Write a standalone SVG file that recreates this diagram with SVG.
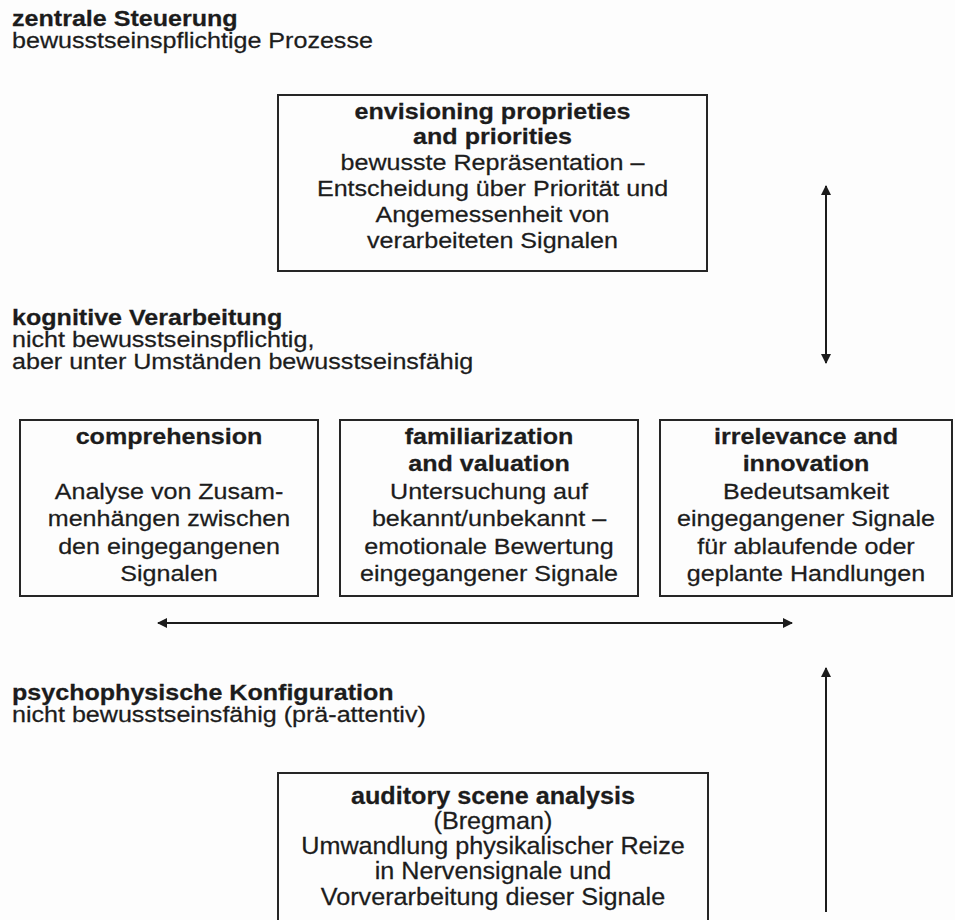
<svg xmlns="http://www.w3.org/2000/svg" width="955" height="920" viewBox="0 0 955 920">
<style>
  text { font-family: "Liberation Sans", Arial, sans-serif; fill: #1c1c1c; stroke: #1c1c1c; stroke-width: 0.25; font-size: 22px; }
  .b { font-weight: bold; }
  .c { text-anchor: middle; }
  .n { font-size: 24px; }
  .box { fill: none; stroke: #262626; stroke-width: 2; }
  .arr { stroke: #1c1c1c; stroke-width: 2; fill: none; }
</style>
<defs>
  <marker id="ah" viewBox="0 0 10 10" refX="9" refY="5" markerWidth="11" markerHeight="10" markerUnits="userSpaceOnUse" orient="auto-start-reverse">
    <path d="M0,0 L10,5 L0,10 z" fill="#1c1c1c"/>
  </marker>
</defs>
<rect width="955" height="920" fill="#fdfdfd"/>

<g id="labels">
  <g transform="translate(12,0) scale(1.14,1)">
    <text class="b" x="0" y="26">zentrale Steuerung</text>
    <text x="0" y="48">bewusstseinspflichtige Prozesse</text>
    <text class="b" x="0" y="325">kognitive Verarbeitung</text>
    <text x="0" y="347">nicht bewusstseinspflichtig,</text>
    <text x="0" y="369">aber unter Umständen bewusstseinsfähig</text>
    <text class="b" x="0" y="700">psychophysische Konfiguration</text>
    <text x="0" y="722">nicht bewusstseinsfähig (prä-attentiv)</text>
  </g>
</g>

<g id="envisioning">
  <rect class="box" x="278" y="95" width="429" height="176"/>
  <g transform="translate(492.5,0) scale(1.14,1)">
    <text class="b c" x="0" y="119">envisioning proprieties</text>
    <text class="b c" x="0" y="144">and priorities</text>
    <text class="c" x="0" y="170">bewusste Repräsentation –</text>
    <text class="c" x="0" y="196">Entscheidung über Priorität und</text>
    <text class="c" x="0" y="222">Angemessenheit von</text>
    <text class="c" x="0" y="248">verarbeiteten Signalen</text>
  </g>
</g>

<g id="comprehension">
  <rect class="box" x="20" y="420" width="298" height="176"/>
  <g transform="translate(169,0) scale(1.14,1)">
    <text class="b c" x="0" y="444">comprehension</text>
    <text class="c" x="0" y="499">Analyse von Zusam-</text>
    <text class="c" x="0" y="526">menhängen zwischen</text>
    <text class="c" x="0" y="554">den eingegangenen</text>
    <text class="c" x="0" y="581">Signalen</text>
  </g>
</g>

<g id="familiarization">
  <rect class="box" x="340" y="420" width="298" height="176"/>
  <g transform="translate(489,0) scale(1.14,1)">
    <text class="b c" x="0" y="444">familiarization</text>
    <text class="b c" x="0" y="471">and valuation</text>
    <text class="c" x="0" y="499">Untersuchung auf</text>
    <text class="c" x="0" y="526">bekannt/unbekannt –</text>
    <text class="c" x="0" y="554">emotionale Bewertung</text>
    <text class="c" x="0" y="581">eingegangener Signale</text>
  </g>
</g>

<g id="irrelevance">
  <rect class="box" x="660" y="420" width="292" height="176"/>
  <g transform="translate(806,0) scale(1.14,1)">
    <text class="b c" x="0" y="444">irrelevance and</text>
    <text class="b c" x="0" y="471">innovation</text>
    <text class="c" x="0" y="499">Bedeutsamkeit</text>
    <text class="c" x="0" y="526">eingegangener Signale</text>
    <text class="c" x="0" y="554">für ablaufende oder</text>
    <text class="c" x="0" y="581">geplante Handlungen</text>
  </g>
</g>

<g id="auditory">
  <path class="box" d="M278,925 V773 H708 V925"/>
  <g transform="translate(493,0) scale(1.05,1)">
    <text class="b c n" x="0" y="804">auditory scene analysis</text>
    <text class="c n" x="0" y="829">(Bregman)</text>
    <text class="c n" x="0" y="854">Umwandlung physikalischer Reize</text>
    <text class="c n" x="0" y="879">in Nervensignale und</text>
    <text class="c n" x="0" y="905">Vorverarbeitung dieser Signale</text>
  </g>
</g>

<g id="connectors">
  <line class="arr" x1="826" y1="186" x2="826" y2="363" marker-start="url(#ah)" marker-end="url(#ah)"/>
  <line class="arr" x1="158" y1="623" x2="792" y2="623" marker-start="url(#ah)" marker-end="url(#ah)"/>
  <line class="arr" x1="826" y1="912" x2="826" y2="668" marker-end="url(#ah)"/>
</g>
</svg>
